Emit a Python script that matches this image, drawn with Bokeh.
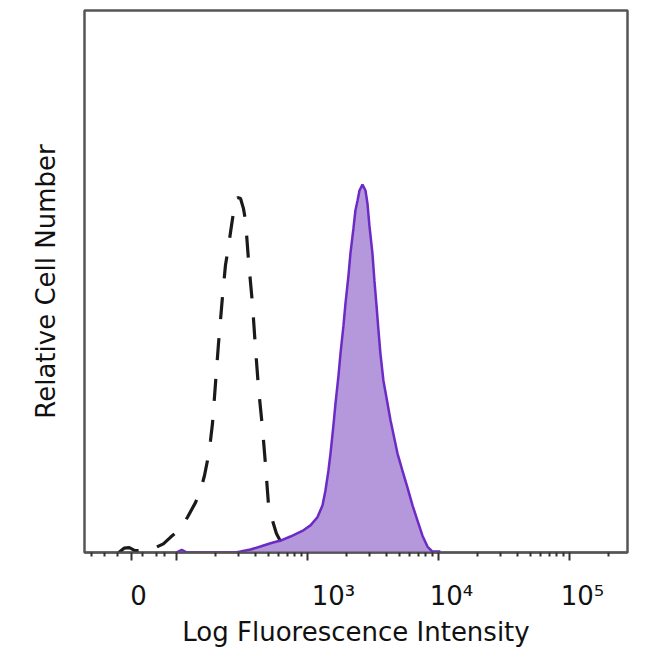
from bokeh.plotting import figure
from bokeh.models import FixedTicker, Range1d
from bokeh.embed import file_html
from bokeh.resources import INLINE
import math

# ---- data (x in display decades of fluorescence, y relative cell number %) ----
iso_x = [1.56, 1.60, 1.64, 1.68, 1.75, 1.84, 1.90, 1.954, 2.031, 2.084, 2.145, 2.183,
         2.214, 2.237, 2.260, 2.275, 2.298, 2.321, 2.351, 2.374, 2.389, 2.420, 2.443,
         2.466, 2.489, 2.511, 2.527, 2.550, 2.580, 2.603, 2.626, 2.656, 2.679, 2.702,
         2.733, 2.763, 2.802, 2.840, 2.908]
iso_y = [0.0, 0.8, 0.9, 0.4, 0.3, 0.9, 1.6, 2.8, 4.4, 6.5, 9.2, 11.4,
         14.2, 17.0, 20.7, 23.8, 31.2, 38.6, 47.1, 53.0, 55.2, 60.3, 64.0,
         65.5, 65.3, 63.5, 61.3, 53.9, 45.9, 37.8, 30.4, 23.1, 16.4, 9.0,
         5.9, 3.5, 1.7, 0.55, 0.18]

stain_x = [2.00, 2.04, 2.08, 2.45, 2.489, 2.565, 2.641, 2.718, 2.794, 2.870, 2.969, 3.023,
           3.076, 3.115, 3.137, 3.160, 3.176, 3.198, 3.214, 3.237, 3.252, 3.275,
           3.290, 3.313, 3.328, 3.351, 3.366, 3.382, 3.397, 3.420, 3.443, 3.458,
           3.473, 3.496, 3.511, 3.527, 3.542, 3.557, 3.580, 3.603, 3.634, 3.687,
           3.725, 3.763, 3.802, 3.840, 3.878, 3.916, 3.954, 4.015]
stain_y = [0.0, 0.5, 0.0, 0.0, 0.18, 0.55, 1.1, 1.7, 2.2, 2.95, 4.1, 5.0,
           6.5, 8.7, 11.4, 15.1, 18.3, 23.4, 27.5, 32.7, 36.7, 41.9,
           45.9, 51.1, 55.2, 59.8, 63.1, 64.9, 66.8, 67.9, 66.8, 64.4,
           60.3, 55.2, 50.2, 45.6, 41.0, 36.7, 31.7, 28.6, 24.4, 18.3,
           15.1, 12.0, 8.7, 5.9, 3.1, 1.1, 0.18, 0.18]

major_ticks = [1.66, 2, 3, 4, 5]
# leading spaces mimic the right-shifted labels of the original
major_labels = ["\u20020", "", "\u2003\u200310\u00b3", "\u200310\u2074", "\u200310\u2075"]
linear_minor = [1.351, 1.450, 1.550, 1.740, 1.847, 1.908]

FONT = "DejaVu Sans"

p = figure(width=640, height=649, output_backend="svg", toolbar_location=None,
           x_range=Range1d(1.298, 5.443), y_range=Range1d(0, 100),
           min_border_left=84, min_border_right=13, min_border_top=10,
           min_border_bottom=97)
p.background_fill_color = "white"
p.border_fill_color = "white"
p.grid.visible = False
p.outline_line_color = "#555555"
p.outline_line_width = 2.5

p.varea(x=stain_x, y1=[0] * len(stain_x), y2=stain_y, fill_color="#B597DC", fill_alpha=1.0)
p.line(iso_x, iso_y, line_color="#1a1a1a", line_width=3.2, line_dash="22 19")
p.line(stain_x, stain_y, line_color="#6B2BC4", line_width=2.5)

log_minor = [d + math.log10(k) for d in (2, 3, 4, 5) for k in range(2, 10)
             if d + math.log10(k) < 5.443]
xa = p.xaxis[0]
xa.ticker = FixedTicker(ticks=major_ticks, minor_ticks=linear_minor + log_minor)
xa.major_label_overrides = {t: l for t, l in zip(major_ticks, major_labels)}
xa.major_tick_in = 0
xa.major_tick_out = 8
xa.minor_tick_in = 0
xa.minor_tick_out = 4
xa.major_tick_line_width = 2
xa.minor_tick_line_width = 2
xa.major_tick_line_color = "#333333"
xa.minor_tick_line_color = "#333333"
xa.axis_line_color = "#555555"
xa.axis_line_width = 2
xa.major_label_text_font = FONT
xa.major_label_text_font_size = "26px"
xa.major_label_text_color = "#111111"
xa.major_label_standoff = 20
xa.axis_label = "Log Fluorescence Intensity"
xa.axis_label_text_font = FONT
xa.axis_label_text_font_size = "26px"
xa.axis_label_text_font_style = "normal"
xa.axis_label_text_color = "#111111"
xa.axis_label_standoff = 3

ya = p.yaxis[0]
ya.ticker = FixedTicker(ticks=[])
ya.major_tick_out = 0
ya.minor_tick_out = 0
ya.major_tick_in = 0
ya.minor_tick_in = 0
ya.axis_line_color = None
ya.major_label_text_font_size = "0px"
ya.axis_label = "Relative Cell Number"
ya.axis_label_text_font = FONT
ya.axis_label_text_font_size = "26px"
ya.axis_label_text_font_style = "normal"
ya.axis_label_text_color = "#111111"
ya.axis_label_standoff = 24

open("out.html", "w").write(file_html(p, INLINE))
